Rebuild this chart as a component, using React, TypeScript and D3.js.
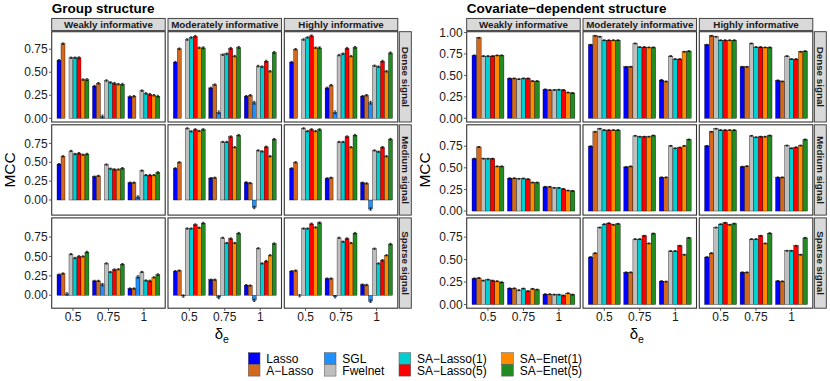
import React from "react";
import * as d3 from "d3";

const width = 830;
const height = 381;
const font = "'Liberation Sans', Arial, Helvetica, sans-serif";

// categories
const deltas = ["0.5", "0.75", "1"];
const priors = ["Weakly informative", "Moderately informative", "Highly informative"];
const signals = ["Dense signal", "Medium signal", "Sparse signal"];
const methods = ["Lasso", "A-Lasso", "SGL", "Fwelnet", "SA-Lasso(1)", "SA-Lasso(5)", "SA-Enet(1)", "SA-Enet(5)"];
const colors = ["#0000FF", "#D2691E", "#1E90FF", "#BEBEBE", "#00CED1", "#FF0000", "#FF8C00", "#228B22"];

// group structure: rows = delta, cols = method
const groupDenseWeak = [
  [0.63, 0.81, 0.0, 0.657, 0.657, 0.657, 0.42, 0.42],
  [0.35, 0.38, 0.02, 0.41, 0.39, 0.38, 0.37, 0.37],
  [0.235, 0.24, 0.0, 0.3, 0.27, 0.26, 0.25, 0.24],
];
const groupDenseMod = [
  [0.61, 0.755, 0.0, 0.855, 0.877, 0.89, 0.765, 0.765],
  [0.33, 0.365, 0.065, 0.69, 0.7, 0.76, 0.675, 0.77],
  [0.24, 0.25, 0.17, 0.567, 0.56, 0.62, 0.51, 0.715],
];
const groupDenseHigh = [
  [0.61, 0.75, 0.0, 0.855, 0.877, 0.895, 0.765, 0.765],
  [0.33, 0.36, 0.065, 0.686, 0.7, 0.76, 0.675, 0.77],
  [0.24, 0.25, 0.17, 0.57, 0.56, 0.62, 0.51, 0.71],
];
const groupMediumWeak = [
  [0.476, 0.58, 0.0, 0.65, 0.61, 0.62, 0.6, 0.61],
  [0.31, 0.32, 0.0, 0.47, 0.415, 0.405, 0.405, 0.42],
  [0.23, 0.23, 0.04, 0.39, 0.33, 0.33, 0.33, 0.365],
];
const groupMediumMod = [
  [0.42, 0.5, 0.0, 0.95, 0.91, 0.935, 0.915, 0.935],
  [0.29, 0.295, 0.0, 0.77, 0.77, 0.84, 0.7, 0.86],
  [0.234, 0.225, -0.1, 0.657, 0.644, 0.705, 0.58, 0.807],
];
const groupMediumHigh = [
  [0.42, 0.5, 0.0, 0.95, 0.913, 0.935, 0.913, 0.935],
  [0.287, 0.295, 0.0, 0.77, 0.77, 0.84, 0.7, 0.86],
  [0.23, 0.22, -0.12, 0.657, 0.64, 0.7, 0.58, 0.807],
];
const groupSparseWeak = [
  [0.266, 0.28, 0.017, 0.53, 0.48, 0.5, 0.5, 0.557],
  [0.185, 0.185, 0.137, 0.41, 0.3, 0.33, 0.335, 0.4],
  [0.086, 0.086, 0.236, 0.3, 0.19, 0.185, 0.23, 0.266],
];
const groupSparseMod = [
  [0.31, 0.318, -0.01, 0.86, 0.86, 0.91, 0.87, 0.93],
  [0.2, 0.2, -0.03, 0.74, 0.674, 0.73, 0.674, 0.8],
  [0.13, 0.125, -0.065, 0.605, 0.41, 0.44, 0.515, 0.665],
];
const groupSparseHigh = [
  [0.31, 0.318, -0.005, 0.86, 0.86, 0.92, 0.875, 0.935],
  [0.215, 0.215, -0.02, 0.74, 0.69, 0.73, 0.674, 0.8],
  [0.137, 0.133, -0.077, 0.6, 0.41, 0.45, 0.515, 0.66],
];

// covariate-dependent structure (no SGL)
const covDenseWeak = [
  [0.733, 0.938, 0.725, 0.725, 0.725, 0.733, 0.733],
  [0.465, 0.465, 0.457, 0.465, 0.465, 0.434, 0.434],
  [0.337, 0.33, 0.33, 0.333, 0.33, 0.3, 0.295],
];
const covDenseMod = [
  [0.857, 0.961, 0.95, 0.91, 0.91, 0.91, 0.91],
  [0.6, 0.6, 0.872, 0.83, 0.83, 0.826, 0.826],
  [0.446, 0.43, 0.725, 0.69, 0.69, 0.775, 0.783],
];
const covDenseHigh = [
  [0.857, 0.961, 0.95, 0.91, 0.91, 0.91, 0.91],
  [0.6, 0.6, 0.872, 0.83, 0.83, 0.826, 0.826],
  [0.442, 0.43, 0.725, 0.69, 0.69, 0.775, 0.783],
];
const covMediumWeak = [
  [0.606, 0.742, 0.606, 0.606, 0.606, 0.517, 0.517],
  [0.38, 0.38, 0.373, 0.377, 0.37, 0.33, 0.33],
  [0.28, 0.28, 0.268, 0.268, 0.256, 0.237, 0.233],
];
const covMediumMod = [
  [0.75, 0.917, 0.952, 0.937, 0.937, 0.937, 0.937],
  [0.51, 0.517, 0.87, 0.86, 0.86, 0.86, 0.874],
  [0.39, 0.39, 0.754, 0.727, 0.735, 0.754, 0.828],
];
const covMediumHigh = [
  [0.754, 0.917, 0.952, 0.937, 0.937, 0.937, 0.937],
  [0.513, 0.52, 0.87, 0.855, 0.86, 0.86, 0.874],
  [0.39, 0.39, 0.758, 0.727, 0.738, 0.758, 0.828],
];
const covSparseWeak = [
  [0.29, 0.295, 0.266, 0.277, 0.266, 0.26, 0.248],
  [0.18, 0.18, 0.16, 0.177, 0.15, 0.174, 0.166],
  [0.115, 0.115, 0.11, 0.11, 0.1, 0.126, 0.11],
];
const covSparseMod = [
  [0.528, 0.572, 0.857, 0.894, 0.905, 0.887, 0.898],
  [0.358, 0.358, 0.728, 0.728, 0.765, 0.68, 0.79],
  [0.26, 0.255, 0.595, 0.595, 0.654, 0.554, 0.742],
];
const covSparseHigh = [
  [0.528, 0.572, 0.857, 0.894, 0.91, 0.887, 0.9],
  [0.358, 0.358, 0.728, 0.728, 0.765, 0.68, 0.794],
  [0.262, 0.258, 0.598, 0.598, 0.654, 0.554, 0.742],
];

// approximate standard errors per method
const groupErr = [0.008, 0.008, 0.015, 0.008, 0.008, 0.01, 0.008, 0.01];
const covErr = [0.005, 0.005, 0.005, 0.005, 0.005, 0.005, 0.005];

// y limits per signal row
const groupYLim = [[-0.04, 0.94], [-0.2, 0.997], [-0.167, 0.997]];
const covYLim = [[-0.043, 1.009], [-0.047, 0.998], [-0.041, 0.964]];
const yTicks = [0, 0.25, 0.5, 0.75, 1];

const groupData = [
  [groupDenseWeak, groupDenseMod, groupDenseHigh],
  [groupMediumWeak, groupMediumMod, groupMediumHigh],
  [groupSparseWeak, groupSparseMod, groupSparseHigh],
];
const covData = [
  [covDenseWeak, covDenseMod, covDenseHigh],
  [covMediumWeak, covMediumMod, covMediumHigh],
  [covSparseWeak, covSparseMod, covSparseHigh],
];

// layout
const colW = 113.5;
const colGap = 2.8;
const rowTop = 31.7;
const rowH = 90.3;
const rowGap = 2.8;
const stripH = 12.2;
const stripFont = 9.8;
const fmt = d3.format(".2f");

const Block = ({ x0, title, data, colorIdx, yLims, err }) => {
  const n = colorIdx.length;
  const rightEnd = x0 + 3 * colW + 2 * colGap;
  const plotBottom = rowTop + 3 * rowH + 2 * rowGap;
  const cx = (x0 + rightEnd) / 2;
  return (
    <g>
      <text x={x0} y={12.8} fontSize={13.5} fontWeight="bold" fill="#000">{title}</text>
      {priors.map((p, c) => {
        const px = x0 + c * (colW + colGap);
        return (
          <g key={p}>
            <rect x={px} y={rowTop - stripH - 1.1} width={colW} height={stripH} fill="#D9D9D9" stroke="#333" strokeWidth={0.9} />
            <text x={px + colW / 2} y={rowTop - 1.1 - stripH / 2 + 3.5} textAnchor="middle" fontSize={stripFont} fontWeight="bold" fill="#1a1a1a">{p}</text>
          </g>
        );
      })}
      {signals.map((s, r) => {
        const py = rowTop + r * (rowH + rowGap);
        const y = d3.scaleLinear().domain(yLims[r]).range([py + rowH, py]);
        const ticks = yTicks.filter((t) => t >= yLims[r][0] && t <= yLims[r][1]);
        const sx = rightEnd + 1.5;
        return (
          <g key={s}>
            {ticks.map((t) => (
              <g key={t}>
                <line x1={x0 - 2.7} x2={x0} y1={y(t)} y2={y(t)} stroke="#333" strokeWidth={0.8} />
                <text x={x0 - 4} y={y(t) + 4.2} textAnchor="end" fontSize={12} fill="#1a1a1a">{fmt(t)}</text>
              </g>
            ))}
            <rect x={sx} y={py} width={12} height={rowH} fill="#D9D9D9" stroke="#333" strokeWidth={0.9} />
            <text transform={`translate(${sx + 6 - 3.5},${py + rowH / 2}) rotate(90)`} textAnchor="middle" fontSize={stripFont} fontWeight="bold" fill="#1a1a1a">{s}</text>
            {priors.map((p, c) => {
              const px = x0 + c * (colW + colGap);
              const x = d3.scaleLinear().domain([0.4, 3.6]).range([px, px + colW]);
              const bw = 0.9 / n;
              const panel = data[r][c];
              return (
                <g key={p}>
                  <rect x={px} y={py} width={colW} height={rowH} fill="#fff" />
                  {panel.map((vals, g) =>
                    vals.map((v, m) => {
                      const xl = x(g + 1 - 0.45 + m * bw);
                      const xr = x(g + 1 - 0.45 + (m + 1) * bw);
                      const xm = (xl + xr) / 2;
                      const e = v === 0 ? 0 : err[m];
                      const capW = (xr - xl) * 0.3;
                      return (
                        <g key={m}>
                          <rect x={xl} y={Math.min(y(v), y(0))} width={xr - xl} height={Math.abs(y(v) - y(0))} fill={colors[colorIdx[m]]} stroke="#000" strokeWidth={0.35} />
                          {e > 0 && (
                            <g stroke="#000" strokeWidth={0.7}>
                              <line x1={xm} x2={xm} y1={y(v - e)} y2={y(v + e)} />
                              <line x1={xm - capW} x2={xm + capW} y1={y(v - e)} y2={y(v - e)} />
                              <line x1={xm - capW} x2={xm + capW} y1={y(v + e)} y2={y(v + e)} />
                            </g>
                          )}
                        </g>
                      );
                    })
                  )}
                  <rect x={px} y={py} width={colW} height={rowH} fill="none" stroke="#333" strokeWidth={1.1} />
                  {r === 2 &&
                    deltas.map((d, g) => (
                      <g key={d}>
                        <line x1={x(g + 1)} x2={x(g + 1)} y1={py + rowH} y2={py + rowH + 2.7} stroke="#333" strokeWidth={0.8} />
                        <text x={x(g + 1)} y={321} textAnchor="middle" fontSize={12} fill="#1a1a1a">{d}</text>
                      </g>
                    ))}
                </g>
              );
            })}
          </g>
        );
      })}
      <text transform={`translate(${x0 - 36.5},${(rowTop + plotBottom) / 2}) rotate(-90)`} textAnchor="middle" fontSize={15.5} fill="#000">MCC</text>
      <text x={cx - 3} y={339} textAnchor="middle" fontSize={15} fill="#000">
        δ<tspan fontSize={10.5} dy={4}>e</tspan>
      </text>
    </g>
  );
};

const legendCols = [248.3, 324.3, 399, 501.7];

const App = () => {
  return (
    <svg width={width} height={height} style={{ position: "absolute", left: 0, top: 0, background: "#fff" }} fontFamily={font}>
      <rect width={width} height={height} fill="#fff" />
      <Block x0={51.7} title="Group structure" data={groupData} colorIdx={[0, 1, 2, 3, 4, 5, 6, 7]} yLims={groupYLim} err={groupErr} />
      <Block x0={466.7} title="Covariate−dependent structure" data={covData} colorIdx={[0, 1, 3, 4, 5, 6, 7]} yLims={covYLim} err={covErr} />
      {methods.map((m, i) => {
        const col = Math.floor(i / 2);
        const row = i % 2;
        const kx = legendCols[col];
        const ky = 352.7 + row * 11.7;
        return (
          <g key={m}>
            <rect x={kx} y={ky} width={11.7} height={11.7} fill={colors[i]} stroke="#555" strokeWidth={0.5} />
            <text x={kx + 18} y={ky + 10.2} fontSize={12} fill="#000">{m.replace("-", "−")}</text>
          </g>
        );
      })}
    </svg>
  );
};

export default App;
